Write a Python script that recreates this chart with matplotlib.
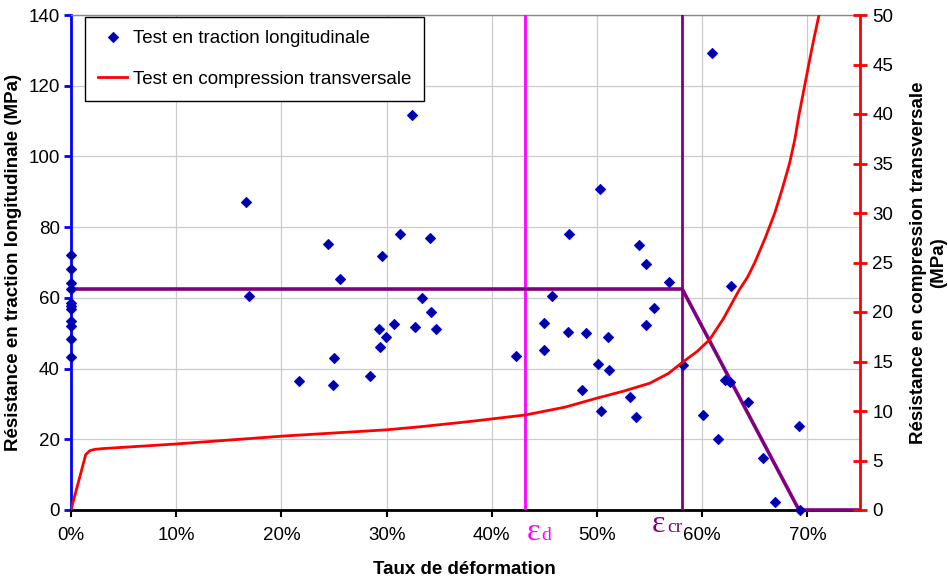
import matplotlib
matplotlib.use("Agg")
import matplotlib.pyplot as plt
from matplotlib.lines import Line2D

plt.rcParams['font.family'] = ['Liberation Sans', 'DejaVu Sans']

# ---- data ----
# Traction test points (strain %, strength MPa)
trac_x = [0, 0, 0, 0, 0, 0, 0, 0, 0, 0, 0,
          16.6, 16.9, 21.7, 24.4, 24.9, 25.0, 25.6, 28.4, 29.3, 29.4, 29.6, 29.9,
          30.7, 31.3, 32.4, 32.7, 33.4, 34.1, 34.2, 34.7,
          42.3, 45.0, 45.0, 45.7, 47.2, 47.3, 48.6, 49.0, 50.1, 50.3, 50.4, 51.0, 51.1,
          53.1, 53.7, 54.0, 54.7, 54.7, 55.4, 56.8, 58.2,
          60.1, 60.9, 61.5, 62.2, 62.6, 62.7, 64.4, 65.8, 66.9, 69.2, 69.3]
trac_y = [72.0, 68.1, 64.2, 62.6, 58.6, 57.7, 56.9, 53.5, 52.0, 48.3, 43.2,
          87.0, 60.6, 36.5, 75.1, 35.4, 43.1, 65.2, 37.9, 51.2, 46.2, 71.9, 48.8,
          52.6, 78.0, 111.7, 51.8, 60.1, 76.9, 55.9, 51.3,
          43.5, 52.8, 45.2, 60.6, 50.3, 78.1, 33.8, 50.0, 41.3, 90.8, 27.9, 48.8, 39.5,
          31.9, 26.2, 74.9, 69.7, 52.2, 57.1, 64.6, 40.9,
          27.0, 129.2, 20.2, 36.8, 36.3, 63.3, 30.5, 14.8, 2.4, 23.8, 0.0]

# Compression test curve (strain %, MPa on right axis)
comp_x = [0, 1.4, 1.8, 2.3, 3, 10, 20.2, 30, 33.2, 38, 43.2, 47, 50, 52.5, 55, 56.8, 58.1,
          59.5, 60.7, 62.0, 63.5, 64.3, 65.0, 66.0, 66.9, 67.6, 68.3, 68.8, 69.2, 69.6,
          70.0, 70.5, 71.1]
comp_y = [0, 5.6, 6.0, 6.13, 6.2, 6.67, 7.47, 8.1, 8.41, 8.95, 9.6, 10.4, 11.3, 12.0, 12.8,
          13.8, 14.9, 16.0, 17.2, 19.3, 22.2, 23.5, 25.0, 27.5, 30.0, 32.4, 35.0, 37.4, 39.9,
          42.1, 44.3, 47.0, 50.0]

# Model envelope (purple)
env_x = [0, 58.1, 69.2, 75]
env_y = [62.5, 62.5, 0, 0]

eps_d = 43.2
eps_cr = 58.1

x_ticks = [0, 10, 20, 30, 40, 50, 60, 70]
x_ticklabels = ['0%', '10%', '20%', '30%', '40%', '50%', '60%', '70%']
y_ticks = [0, 20, 40, 60, 80, 100, 120, 140]
y2_ticks = [0, 5, 10, 15, 20, 25, 30, 35, 40, 45, 50]

# ---- figure ----
fig = plt.figure(figsize=(9.48, 5.84), dpi=100)
ax = fig.add_axes([71/948, 74/584, 789/948, 495/584])
ax2 = ax.twinx()

FS = 13.5

ax.set_xlim(0, 75)
ax.set_ylim(0, 140)
ax2.set_ylim(0, 50)

ax.grid(True, color='#cccccc', lw=0.9)
ax.set_axisbelow(True)

ax.set_xticks(x_ticks)
ax.set_xticklabels(x_ticklabels)
ax.set_yticks(y_ticks)
ax2.set_yticks(y2_ticks)

ax.tick_params(axis='x', direction='out', length=5, width=1.5, color='black', labelsize=FS, pad=7)
ax.tick_params(axis='y', direction='out', length=5, width=2, color='blue', labelsize=FS, pad=3)
ax2.tick_params(axis='y', direction='inout', length=10, width=2, color='red', labelsize=FS, pad=4)

ax.spines['top'].set_color('#888888')
ax.spines['top'].set_linewidth(1)
ax.spines['right'].set_visible(False)
ax2.spines['top'].set_visible(False)
ax2.spines['left'].set_visible(False)
ax2.spines['bottom'].set_visible(False)
ax.spines['left'].set_color('blue')
ax.spines['left'].set_linewidth(2)
ax.spines['bottom'].set_color('black')
ax.spines['bottom'].set_linewidth(2)
ax2.spines['right'].set_color('red')
ax2.spines['right'].set_linewidth(2)

# vertical epsilon lines
ax.axvline(eps_d, color='#ff00ff', lw=2, zorder=3)
ax.axvline(eps_cr, color='#800080', lw=2, zorder=3)

# envelope
ax.plot(env_x, env_y, color='#800080', lw=2.6, zorder=3, clip_on=False, solid_capstyle='butt')

# scatter
ax.plot(trac_x, trac_y, ls='none', marker='D', ms=5.2, mfc='#000099', mec='#0000ee', mew=0.8,
        zorder=5, clip_on=False)

# compression curve
ax2.plot(comp_x, comp_y, color='red', lw=2, zorder=4, solid_joinstyle='round')

# labels
ax.set_xlabel('Taux de déformation', fontsize=FS, fontweight='bold')
ax.xaxis.set_label_coords(0.498, -0.104)
ax.set_ylabel('Résistance en traction longitudinale (MPa)', fontsize=FS, fontweight='bold')
ax.yaxis.set_label_coords(-0.062, 0.5)
ax2.set_ylabel('Résistance en compression transversale\n(MPa)', fontsize=FS, fontweight='bold',
               rotation=90, va='center', ha='center', linespacing=1.2)
ax2.yaxis.set_label_coords(1.087, 0.5)

# epsilon annotations
serif = ['Liberation Serif', 'DejaVu Serif']
ax.annotate('ε', xy=(eps_d, 0), xycoords='data', xytext=(1, -30), textcoords='offset pixels',
            fontsize=23, family=serif, color='#ff00ff', va='baseline', ha='left', annotation_clip=False)
ax.annotate('d', xy=(eps_d, 0), xycoords='data', xytext=(16, -30), textcoords='offset pixels',
            fontsize=14, family=serif, color='#ff00ff', va='baseline', ha='left', annotation_clip=False)
ax.annotate('ε', xy=(eps_cr, 0), xycoords='data', xytext=(-30, -22), textcoords='offset pixels',
            fontsize=23, family=serif, color='#800080', va='baseline', ha='left', annotation_clip=False)
ax.annotate('cr', xy=(eps_cr, 0), xycoords='data', xytext=(-15, -22), textcoords='offset pixels',
            fontsize=14, family=serif, color='#800080', va='baseline', ha='left', annotation_clip=False)

# legend
handles = [Line2D([], [], ls='none', marker='D', ms=5.2, mfc='#000099', mec='#0000ee', mew=0.8),
           Line2D([], [], color='red', lw=2)]
labels = ['Test en traction longitudinale', 'Test en compression transversale']
leg = ax2.legend(handles, labels, loc='upper left', bbox_to_anchor=(0.0177, 0.996),
                 borderaxespad=0, fontsize=FS, frameon=True, fancybox=False, shadow=False,
                 edgecolor='black', framealpha=1, handlelength=1.55, handletextpad=0.3,
                 labelspacing=1.25, borderpad=0.7)
leg.get_frame().set_linewidth(1)

fig.savefig('out.png', dpi=100)
